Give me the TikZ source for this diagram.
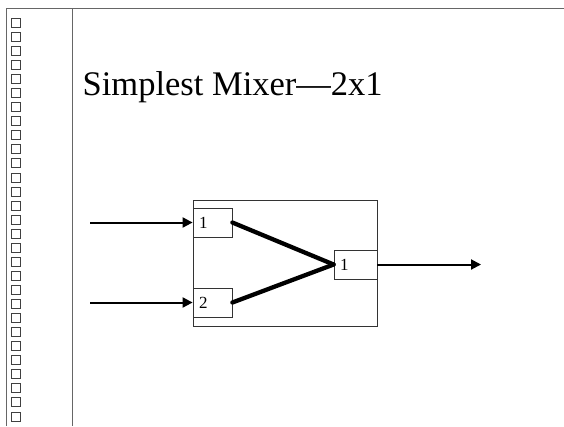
\documentclass[tikz,border=0pt]{standalone}
\usepackage{fontspec}
\setmainfont{Liberation Serif}
\usetikzlibrary{arrows.meta}
\begin{document}
\begin{tikzpicture}[x=1pt,y=-1pt,
  frameline/.style={draw=black!60,line width=1.2pt},
  sq/.style={draw=black!75,line width=0.9pt},
  boxline/.style={draw=black!80,line width=0.8pt},
  port/.style={draw=black!80,line width=0.8pt,minimum height=29pt,inner xsep=6pt,inner ysep=0pt,align=left,font=\fontsize{17}{19}\selectfont},
  sig/.style={line width=2pt,-{Triangle[length=10pt,width=10pt]}},
  path/.style={line width=4.3pt,line cap=round}]
\useasboundingbox (0,0) rectangle (564,426);
% frame
\draw[frameline] (6.5,426) -- (6.5,8.8) -- (564,8.8);
\draw[frameline] (72.5,8.8) -- (72.5,426);
\foreach \k in {0,...,28} {
  \draw[sq] (11.5,{18.3+14.06*\k}) rectangle ++(9,9);
}
% title
\node[anchor=base west,inner sep=0pt,font=\fontsize{34.5}{40}\selectfont] (title) at (82.5,95.5) {Simplest Mixer—2x1};
% mixer
\node[boxline,draw,minimum width=184pt,minimum height=126pt,inner sep=0pt] (mix) at (285,263) {};
\node[port,text width=27pt,minimum width=39pt] (in1) at (212.5,222.5) {1};
\node[port,text width=27pt,minimum width=39pt] (in2) at (212.5,302.5) {2};
\node[port,text width=31pt,minimum width=43pt] (out1) at (355.5,264.5) {1};
\draw[path] (in1.east) -- (out1.west);
\draw[path] (in2.east) -- (out1.west);
% signals
\coordinate (s1) at (90,222.5);
\coordinate (s2) at (90,302.5);
\coordinate (s3) at (481,264.5);
\draw[sig] (s1) -- (in1.west);
\draw[sig] (s2) -- (in2.west);
\draw[sig] (out1.east) -- (s3);
\end{tikzpicture}
\end{document}
